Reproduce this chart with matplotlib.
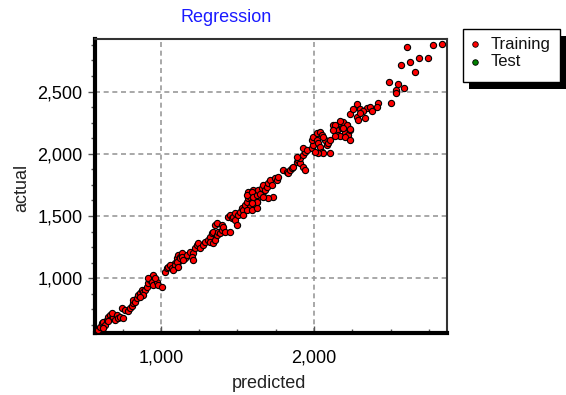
import matplotlib
matplotlib.use("Agg")
import matplotlib.pyplot as plt
from matplotlib.patches import Rectangle
from matplotlib.lines import Line2D
from matplotlib.ticker import FuncFormatter, MultipleLocator, FixedLocator

plt.rcParams['font.family'] = ['Liberation Sans', 'DejaVu Sans']

# Training set: predicted vs actual
predicted = [
    590, 601, 614, 621, 634, 647, 654, 667, 680, 686, 699, 680, 712, 719, 732, 751, 654, 621,
    745, 765, 784, 797, 810, 817, 817, 830, 843, 850, 863, 876, 882, 895, 908, 915, 928, 941,
    948, 915, 941, 948, 974, 980, 1007, 961, 882, 863,
    1026, 1039, 1046, 1072, 1078, 1092, 1105, 1059, 1111, 1105, 1111, 1124, 1137, 1157,
    1072, 1092, 1105, 1124, 1137, 1078, 1111, 1144,
    1170, 1190, 1209, 1222, 1235, 1242, 1203, 1209, 1255, 1275, 1288, 1307, 1320, 1333, 1340,
    1320, 1340, 1353, 1366, 1373, 1386, 1399, 1353, 1366, 1399, 1405, 1418, 1451,
    1438, 1451, 1464, 1471, 1484, 1497, 1484, 1503, 1516, 1529, 1536, 1549, 1562, 1569, 1582,
    1595, 1601, 1614, 1627, 1634, 1647, 1660, 1667, 1582, 1536, 1562, 1595, 1627, 1569, 1562, 1601,
    1595, 1601, 1627, 1634, 1647, 1660, 1667, 1680, 1693, 1699, 1712, 1725, 1732, 1699, 1667,
    1627, 1595, 1745, 1758, 1765,
    1797, 1824, 1830, 1843, 1856, 1863, 1889, 1895, 1908, 1928, 1941, 1908, 1889,
    1928, 1941, 1928, 1954, 1987, 1993, 1987, 1993, 2020, 2026, 2039, 2052, 2059, 2026, 2007,
    2020, 2039, 2052, 2072, 2085, 2092, 2105, 2059, 2105, 2124, 2137, 2150, 2157, 2170, 2183,
    2203, 2216, 2189, 2222, 2235,
    2608, 2778, 2837, 2569, 2627, 2686, 2745, 2660, 2490, 2549, 2536, 2536, 2588, 2503, 2418,
    2412, 2281, 2301, 2347, 2366, 2320, 2281, 2333, 2301, 2379, 2235, 2288, 2255, 2170, 2137,
    2216, 2189, 2235, 2124, 2170, 2137, 2203, 2235,
]
actual = [
    584, 608, 640, 648, 624, 665, 689, 705, 681, 689, 665, 721, 705, 681, 689, 681, 657, 600,
    761, 745, 737, 761, 777, 801, 826, 810, 842, 866, 882, 906, 890, 906, 930, 962, 987, 1011,
    1027, 1002, 970, 946, 970, 946, 930, 1002, 866, 850,
    1051, 1083, 1091, 1083, 1107, 1123, 1091, 1107, 1131, 1163, 1187, 1171, 1203, 1163,
    1083, 1107, 1131, 1163, 1171, 1067, 1091, 1147,
    1187, 1211, 1203, 1244, 1268, 1284, 1171, 1147, 1244, 1268, 1292, 1308, 1332, 1364, 1372,
    1292, 1284, 1308, 1348, 1372, 1364, 1388, 1429, 1445, 1429, 1413, 1372, 1372,
    1493, 1509, 1485, 1493, 1469, 1429, 1525, 1509, 1533, 1565, 1549, 1589, 1613, 1645, 1654,
    1605, 1630, 1589, 1613, 1654, 1678, 1670, 1694, 1573, 1509, 1549, 1549, 1565, 1694, 1670, 1710,
    1694, 1654, 1670, 1710, 1678, 1726, 1750, 1710, 1734, 1766, 1790, 1750, 1654, 1645, 1654,
    1613, 1605, 1806, 1790, 1815,
    1871, 1855, 1847, 1871, 1887, 1895, 1935, 1951, 1927, 1895, 1871, 1967, 1976,
    1991, 2016, 2048, 2032, 2048, 2072, 2112, 2136, 2112, 2088, 2056, 2016, 2008, 2008, 2016,
    2168, 2176, 2152, 2112, 2072, 2088, 2112, 2136, 2008, 2233, 2208, 2192, 2152, 2249, 2208,
    2168, 2233, 2257, 2152, 2192,
    2857, 2870, 2884, 2713, 2741, 2769, 2769, 2656, 2573, 2562, 2514, 2487, 2532, 2405, 2405,
    2372, 2397, 2356, 2367, 2375, 2340, 2294, 2286, 2327, 2340, 2321, 2273, 2356, 2267, 2233,
    2233, 2206, 2198, 2192, 2144, 2144, 2134, 2107,
]

x_ticks = [1000, 2000]
y_ticks = [1000, 1500, 2000, 2500]
x_range = (569, 2869)
y_range = (560, 2922)

W, H = 566, 395
fig = plt.figure(figsize=(W / 100, H / 100), dpi=100)
ax = fig.add_axes([95 / W, 1 - 333 / H, (447 - 95) / W, (333 - 39) / H])

ax.scatter(predicted, actual, s=20, c='#ff0000', edgecolors='black',
           linewidths=0.8, zorder=3)

ax.set_xlim(*x_range)
ax.set_ylim(*y_range)

fmt = FuncFormatter(lambda v, p: f"{int(v):,}")
ax.xaxis.set_major_locator(FixedLocator(x_ticks))
ax.yaxis.set_major_locator(FixedLocator(y_ticks))
ax.xaxis.set_minor_locator(MultipleLocator(250))
ax.yaxis.set_minor_locator(MultipleLocator(125))
ax.xaxis.set_major_formatter(fmt)
ax.yaxis.set_major_formatter(fmt)

ax.grid(True, which='major', color='#999999', linestyle=(0, (3, 2.2)), linewidth=1.2, zorder=0)

ax.tick_params(axis='x', which='major', direction='in', length=5, width=1,
               color='#555555', labelsize=13, pad=12)
ax.tick_params(axis='x', which='minor', direction='in', length=3, width=1, color='#555555')
ax.tick_params(axis='y', which='major', direction='out', length=5, width=1,
               color='#555555', labelsize=13, pad=4)
ax.tick_params(axis='y', which='minor', direction='out', length=3, width=1, color='#555555')

for side in ('left', 'bottom'):
    ax.spines[side].set_linewidth(3)
    ax.spines[side].set_color('black')
for side in ('top', 'right'):
    ax.spines[side].set_linewidth(1.5)
    ax.spines[side].set_color('#333333')

fig.text(22 / W, 1 - 188 / H, 'actual', rotation=90, ha='center', va='center',
         fontsize=13, color='#222222')
fig.text(269 / W, 1 - 383 / H, 'predicted', ha='center', va='center',
         fontsize=13, color='#222222')
fig.text(226 / W, 1 - 17 / H, 'Regression', ha='center', va='center',
         fontsize=13, color='#1a1aff')

# legend box with drop shadow
def px_rect(x0, y0, x1, y1, **kw):
    return Rectangle((x0 / W, 1 - y1 / H), (x1 - x0) / W, (y1 - y0) / H,
                     transform=fig.transFigure, **kw)

fig.add_artist(px_rect(469, 36, 566, 89, facecolor='black', edgecolor='none'))
fig.add_artist(px_rect(463, 29, 560, 82, facecolor='white', edgecolor='black', linewidth=1))
for yy, col, lab in [(44, '#ff0000', 'Training'), (62, '#008000', 'Test')]:
    fig.add_artist(Line2D([475 / W], [1 - yy / H], marker='o', markersize=4,
                          markerfacecolor=col, markeredgecolor='black',
                          markeredgewidth=0.6, transform=fig.transFigure))
    fig.text(491 / W, 1 - yy / H, lab, ha='left', va='center', fontsize=12,
             color='#111111')

fig.savefig('out.png', dpi=100)
